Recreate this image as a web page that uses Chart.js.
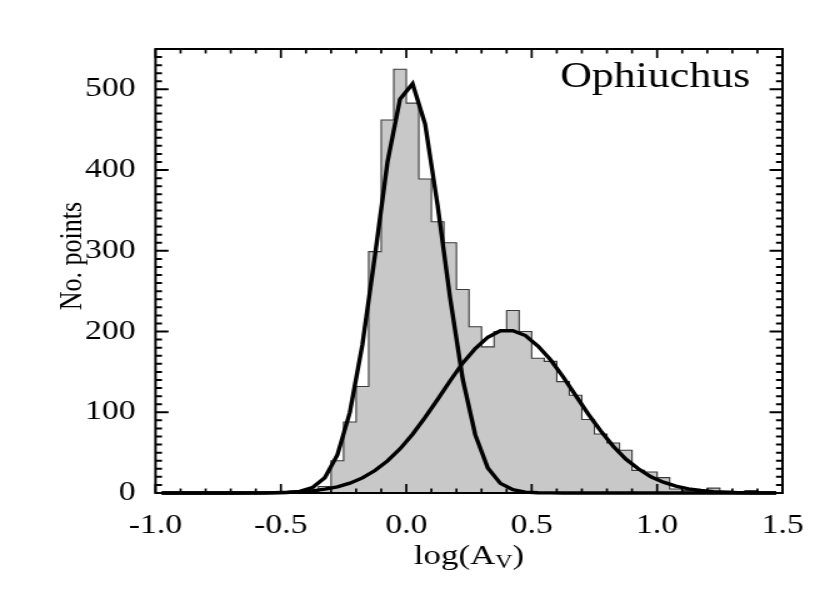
<!DOCTYPE html>
<html><head><meta charset="utf-8">
<script src="https://cdn.jsdelivr.net/npm/chart.js@4/dist/chart.umd.min.js"></script>
<style>html,body{margin:0;padding:0;background:#fff;overflow:hidden}</style>
</head><body>
<canvas id="c" width="664" height="593" style="display:block;width:830px;height:593px"></canvas>
<script>
// ---- data ----
const binLeft = [-1.00,-0.95,-0.90,-0.85,-0.80,-0.75,-0.70,-0.65,-0.60,-0.55,
                 -0.50,-0.45,-0.40,-0.35,-0.30,-0.25,-0.20,-0.15,-0.10,-0.05,
                  0.00, 0.05, 0.10, 0.15, 0.20, 0.25, 0.30, 0.35, 0.40, 0.45,
                  0.50, 0.55, 0.60, 0.65, 0.70, 0.75, 0.80, 0.85, 0.90, 0.95,
                  1.00, 1.05, 1.10, 1.15, 1.20, 1.25, 1.30, 1.35, 1.40, 1.45];
const counts = [0,0,0,0,0,0,0,0,0,1,
                1,1,2,8,40,88,132,299,462,525,
                483,389,336,310,252,206,181,200,226,200,
                167,163,138,121,91,73,62,53,28,26,
                19,5,3,2,6,2,1,3,1,0];
const binCenter = [-0.975,-0.925,-0.875,-0.825,-0.775,-0.725,-0.675,-0.625,-0.575,-0.525,
                   -0.475,-0.425,-0.375,-0.325,-0.275,-0.225,-0.175,-0.125,-0.075,-0.025,
                    0.025, 0.075, 0.125, 0.175, 0.225, 0.275, 0.325, 0.375, 0.425, 0.475,
                    0.525, 0.575, 0.625, 0.675, 0.725, 0.775, 0.825, 0.875, 0.925, 0.975,
                    1.025, 1.075, 1.125, 1.175, 1.225, 1.275, 1.325, 1.375, 1.425, 1.475];
const fitNarrow = [0,0,0,0,0,0,0,0,0,0.1,
                   0.5,2,6.6,19,47,100,184,294,410,488,
                   507,457,356,241,141,72,31,12,4,1.1,
                   0.3,0.1,0,0,0,0,0,0,0,0,
                   0,0,0,0,0,0,0,0,0,0];
const fitBroad = [0,0,0,0,0.01,0.02,0.05,0.1,0.2,0.45,
                  0.85,1.6,2.7,4.7,7.7,12.2,18.7,27.8,39.7,54.7,
                  72.8,93.6,116,139,161,179,193,201,201,195,
                  182,165,144,121,98,77,58,42,30,20,
                  13.4,8.5,5.2,3.1,1.7,1,0.5,0.3,0.1,0.1];
const xRange = [-1.0, 1.5];
const yRange = [0, 550];
const xTickLabels = [-1.0,-0.5,0.0,0.5,1.0,1.5];
const yTickLabels = [0,100,200,300,400,500];
const xMinorStep = 0.1;
const yMinorStep = 10;
const regionLabel = 'Ophiuchus';
const xTitleParts = ['log(A', 'V', ')'];
const yTitle = 'No. points';

const SERIF = '"Liberation Serif", "Times New Roman", serif';

const decorPlugin = {
  id: 'decor',
  afterDatasetsDraw(chart) {
    const {ctx, chartArea: a, scales: {x, y}} = chart;
    ctx.save();
    ctx.strokeStyle = '#000';
    ctx.lineWidth = 1.7;
    ctx.beginPath();
    const nx = Math.round((xRange[1] - xRange[0]) / xMinorStep);
    for (let i = 0; i <= nx; i++) {
      const v = xRange[0] + i * xMinorStep;
      const px = x.getPixelForValue(v);
      const major = xTickLabels.some(t => Math.abs(t - v) < 1e-6);
      const L = major ? 9 : 4.5;
      ctx.moveTo(px, a.bottom); ctx.lineTo(px, a.bottom - L);
      ctx.moveTo(px, a.top); ctx.lineTo(px, a.top + L);
    }
    ctx.stroke();
    ctx.lineWidth = 2;
    ctx.beginPath();
    const ny = Math.round((yRange[1] - yRange[0]) / yMinorStep);
    for (let i = 0; i <= ny; i++) {
      const v = yRange[0] + i * yMinorStep;
      const py = y.getPixelForValue(v);
      const major = yTickLabels.some(t => Math.abs(t - v) < 1e-6);
      const L = major ? 10.4 : 5.2;
      ctx.moveTo(a.left, py); ctx.lineTo(a.left + L, py);
      ctx.moveTo(a.right, py); ctx.lineTo(a.right - L, py);
    }
    ctx.stroke();
    ctx.lineWidth = 2;
    ctx.strokeRect(a.left, a.top, a.right - a.left, a.bottom - a.top);
    ctx.restore();
  },
  afterDraw(chart) {
    const {ctx, chartArea: a} = chart;
    ctx.save();
    ctx.fillStyle = '#000';
    ctx.font = '35px ' + SERIF;
    ctx.textAlign = 'right';
    ctx.textBaseline = 'alphabetic';
    ctx.fillText(regionLabel, 600, 87);
    const mainFont = '28px ' + SERIF, subFont = '19px ' + SERIF;
    ctx.font = mainFont; const w1 = ctx.measureText(xTitleParts[0]).width;
    const w3 = ctx.measureText(xTitleParts[2]).width;
    ctx.font = subFont; const w2 = ctx.measureText(xTitleParts[1]).width;
    const cx = (a.left + a.right) / 2;
    let sx = cx - (w1 + w2 + w3) / 2;
    ctx.textAlign = 'left';
    ctx.font = mainFont; ctx.fillText(xTitleParts[0], sx, 564); sx += w1;
    ctx.font = subFont; ctx.fillText(xTitleParts[1], sx, 568); sx += w2;
    ctx.font = mainFont; ctx.fillText(xTitleParts[2], sx, 564);
    ctx.translate(65.3, 256);
    ctx.rotate(-Math.PI / 2);
    ctx.font = '26px ' + SERIF;
    ctx.textAlign = 'center';
    ctx.fillText(yTitle, 0, 0);
    ctx.restore();
  }
};

new Chart(document.getElementById('c'), {
  type: 'line',
  data: {
    datasets: [
      { label: 'fit 1', data: binCenter.map((c, i) => ({x: c, y: fitNarrow[i]})),
        borderColor: '#000', borderWidth: 3.4, pointRadius: 0, fill: false, tension: 0, clip: false, order: 0 },
      { label: 'fit 2', data: binCenter.map((c, i) => ({x: c, y: fitBroad[i]})),
        borderColor: '#000', borderWidth: 3.4, pointRadius: 0, fill: false, tension: 0, clip: false, order: 1 },
      { label: 'histogram', data: binLeft.map((b, i) => ({x: b, y: counts[i]})).concat([{x: xRange[1], y: 0}]),
        stepped: true, fill: 'origin', backgroundColor: 'rgb(200,200,200)', borderColor: '#3a3a3a',
        borderWidth: 1.1, pointRadius: 0, order: 2 }
    ]
  },
  options: {
    responsive: false, animation: false, devicePixelRatio: 1,
    layout: { padding: { left: 0, right: 38, top: 49, bottom: 0 } },
    plugins: { legend: { display: false }, tooltip: { enabled: false } },
    scales: {
      x: {
        type: 'linear', min: xRange[0], max: xRange[1],
        grid: { display: false }, border: { display: false },
        afterBuildTicks: s => { s.ticks = xTickLabels.map(v => ({value: v})); },
        afterFit: s => { s.height = 100; },
        ticks: { color: '#000', padding: 9, maxRotation: 0, autoSkip: false,
                 font: { family: SERIF, size: 27 }, callback: v => Number(v).toFixed(1) }
      },
      y: {
        type: 'linear', min: yRange[0], max: yRange[1],
        grid: { display: false }, border: { display: false },
        afterBuildTicks: s => { s.ticks = yTickLabels.map(v => ({value: v})); },
        afterFit: s => { s.width = 124.4; },
        ticks: { color: '#000', padding: 8, font: { family: SERIF, size: 27 },
                 callback: v => String(v) }
      }
    }
  },
  plugins: [decorPlugin]
});
</script>
</body></html>
